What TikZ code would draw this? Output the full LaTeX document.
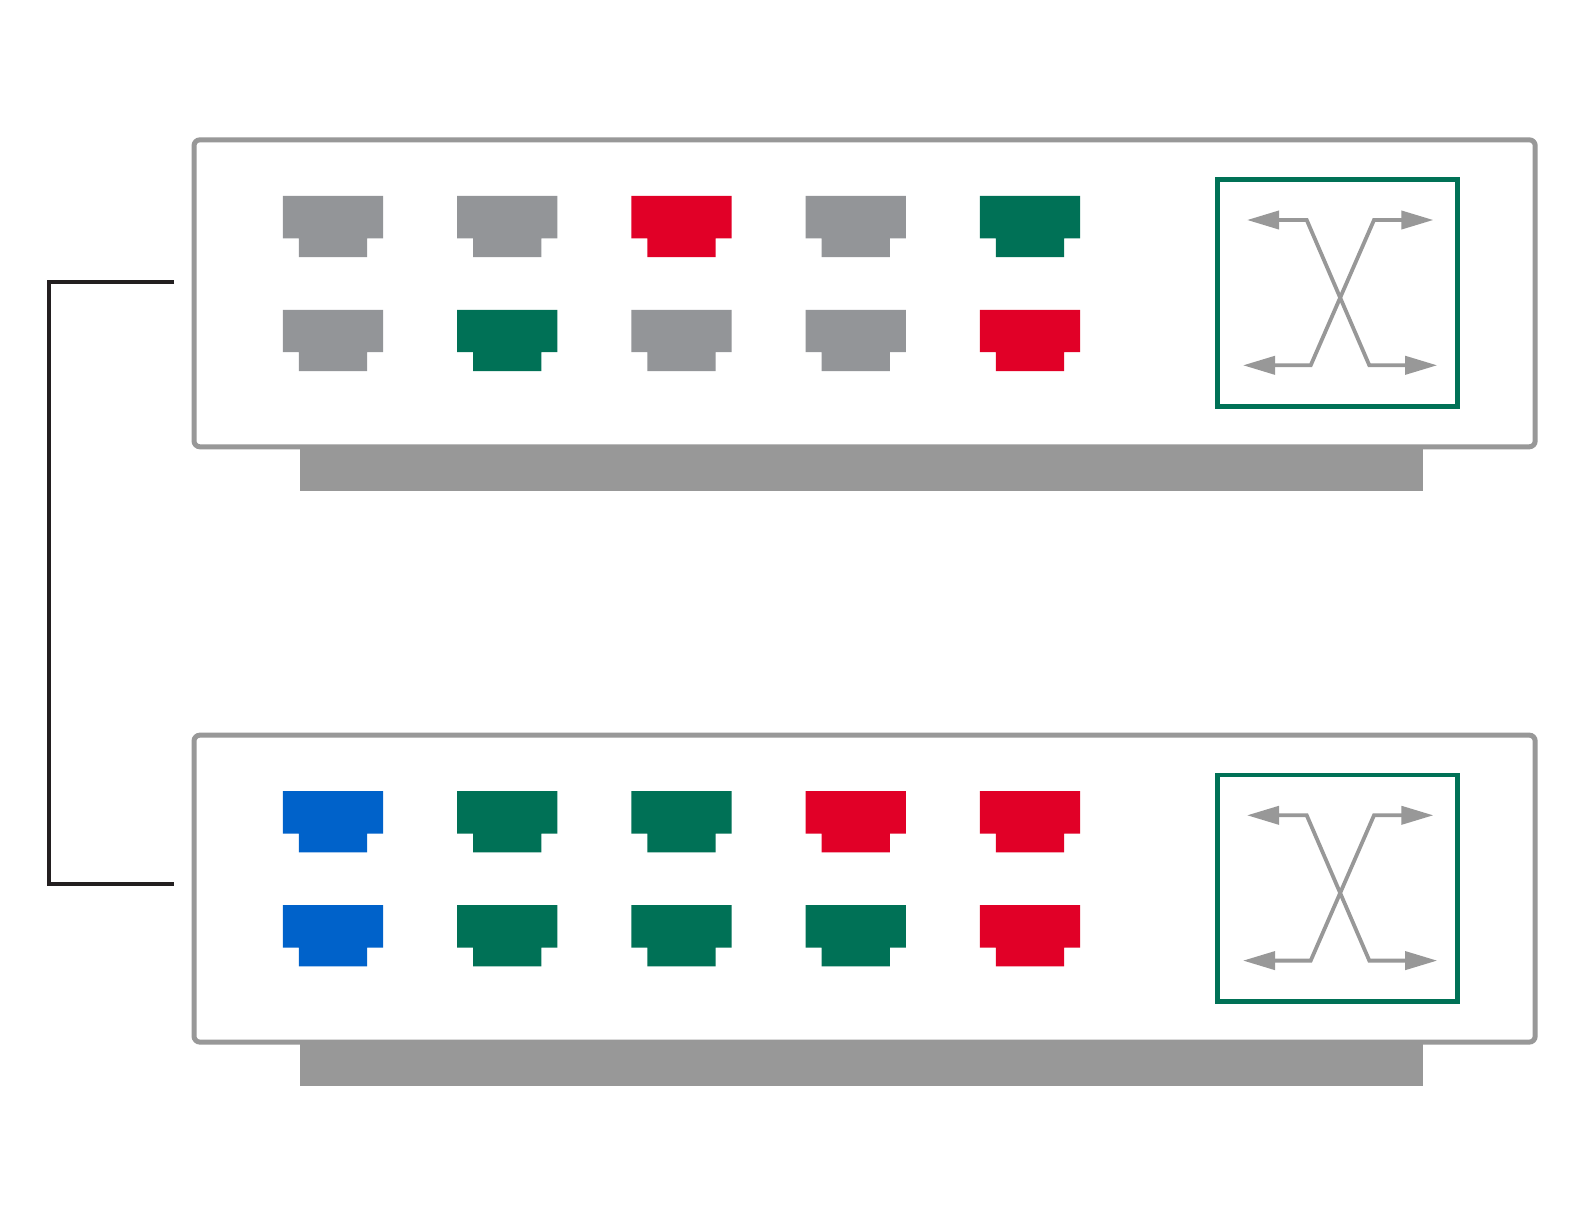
\documentclass[tikz,border=0pt]{standalone}
\usetikzlibrary{arrows.meta}
\definecolor{pgray}{HTML}{939598}
\definecolor{lgray}{HTML}{989898}
\definecolor{pred}{HTML}{E10027}
\definecolor{pgreen}{HTML}{007156}
\definecolor{pblue}{HTML}{0062CA}
\definecolor{blk}{HTML}{231F20}
\tikzset{
  panel/.style={draw=lgray,line width=5pt,fill=white,rounded corners=6pt},
  standbar/.style={fill=lgray},
  greenframe/.style={draw=pgreen,line width=4.6pt},
  xline/.style={draw=lgray,line width=3.8pt,line join=miter,{Triangle[width=18pt,length=32pt,inset=0pt]}-{Triangle[width=18pt,length=32pt,inset=0pt]}},
  bracket/.style={draw=blk,line width=4pt},
  port/.pic={\fill[pic actions] (0,0) -- (100.3,0) -- (100.3,42.4) -- (84.3,42.4) -- (84.3,61.3) -- (16,61.3) -- (16,42.4) -- (0,42.4) -- cycle;},
  pics/unit/.style n args={0}{code={
    \fill[standbar] (300,440) rectangle (1423.3,490.7);
    \draw[panel] (194,139.8) rectangle (1535.2,446.8);
    \draw[greenframe] (1217.5,179.7) rectangle (1457.5,406.2);
    \draw[xline] (1247,220) -- (1306.7,220) -- (1369.3,365.3) -- (1437.2,365.3);
    \draw[xline] (1243,365.3) -- (1310.7,365.3) -- (1374,220) -- (1433.4,220);
  }}
}
\begin{document}
\begin{tikzpicture}[x=1pt,y=-1pt]
\useasboundingbox (0,0) rectangle (1584,1224);
\fill[white] (0,0) rectangle (1584,1224);
\pic at (0,0) {unit};
\pic at (0,595.3) {unit};
\foreach \c [count=\i from 0] in {pgray,pgray,pred,pgray,pgreen}
  \pic[fill=\c] at ({282.8+174.25*\i},195.9) {port};
\foreach \c [count=\i from 0] in {pgray,pgreen,pgray,pgray,pred}
  \pic[fill=\c] at ({282.8+174.25*\i},309.8) {port};
\foreach \c [count=\i from 0] in {pblue,pgreen,pgreen,pred,pred}
  \pic[fill=\c] at ({282.8+174.25*\i},791.1) {port};
\foreach \c [count=\i from 0] in {pblue,pgreen,pgreen,pgreen,pred}
  \pic[fill=\c] at ({282.8+174.25*\i},905.1) {port};
\coordinate (linkA) at (174,281.5);
\coordinate (linkB) at (174,883.6);
\draw[bracket] (linkA) -- (48.7,281.5) -- (48.7,883.6) -- (linkB);
\end{tikzpicture}
\end{document}
